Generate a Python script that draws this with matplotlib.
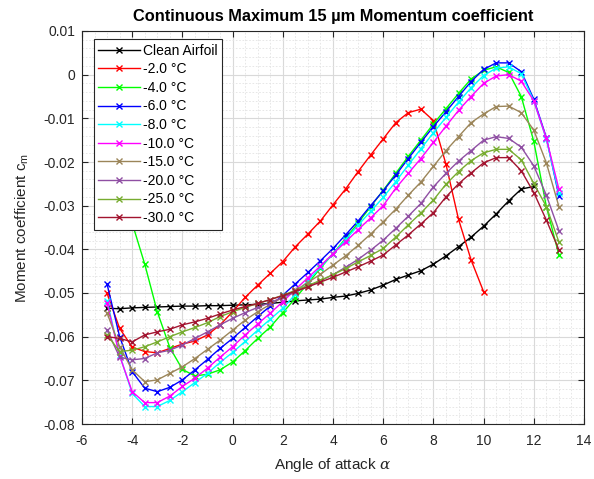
import matplotlib
matplotlib.use("Agg")
import matplotlib.pyplot as plt
from matplotlib.ticker import MultipleLocator
import numpy as np

plt.rcParams["font.family"] = ["Liberation Sans", "DejaVu Sans"]
plt.rcParams["mathtext.fontset"] = "dejavuserif"
plt.rcParams["axes.unicode_minus"] = False

# angle of attack, deg (0.5 deg steps)
alpha_clean = np.arange(-5.0, 12.01, 0.5)
alpha_m2 = np.arange(-5.0, 10.01, 0.5)
alpha_full = np.arange(-5.0, 13.01, 0.5)

cm_clean = [-0.0535, -0.0536, -0.0534, -0.0533, -0.0532, -0.0531, -0.0530, -0.0530,
            -0.0529, -0.0529, -0.0528, -0.0527, -0.0526, -0.0524, -0.0521, -0.0518,
            -0.0516, -0.0514, -0.0510, -0.0507, -0.0501, -0.0493, -0.0482, -0.0469,
            -0.0459, -0.0449, -0.0434, -0.0415, -0.0394, -0.0372, -0.0347, -0.0319,
            -0.0289, -0.0262, -0.0256]

cm_m2 = [-0.0501, -0.0581, -0.0624, -0.0634, -0.0637, -0.0627, -0.0617, -0.0610,
         -0.0596, -0.0573, -0.0543, -0.0510, -0.0482, -0.0455, -0.0428, -0.0394,
         -0.0365, -0.0335, -0.0298, -0.0262, -0.0222, -0.0184, -0.0147, -0.0110,
         -0.0087, -0.0079, -0.0105, -0.0205, -0.0331, -0.0424, -0.0497]

cm_m4 = [-0.0180, -0.0260, -0.0340, -0.0434, -0.0543, -0.0625, -0.0675, -0.0690,
         -0.0686, -0.0676, -0.0658, -0.0632, -0.0604, -0.0578, -0.0545, -0.0512,
         -0.0478, -0.0443, -0.0410, -0.0375, -0.0340, -0.0302, -0.0265, -0.0226,
         -0.0187, -0.0150, -0.0113, -0.0078, -0.0043, -0.0010, 0.0010, 0.0018,
         0.0005, -0.0050, -0.0153, -0.0302, -0.0413]

cm_m6 = [-0.0480, -0.0600, -0.0680, -0.0718, -0.0726, -0.0716, -0.0699, -0.0676,
         -0.0652, -0.0627, -0.0604, -0.0579, -0.0554, -0.0530, -0.0505, -0.0479,
         -0.0453, -0.0426, -0.0398, -0.0367, -0.0335, -0.0300, -0.0266, -0.0230,
         -0.0192, -0.0155, -0.0119, -0.0085, -0.0050, -0.0016, 0.0012, 0.0027,
         0.0027, 0.0007, -0.0056, -0.0144, -0.0278]

cm_m8 = [-0.0518, -0.0642, -0.0730, -0.0760, -0.0760, -0.0746, -0.0726, -0.0705,
         -0.0684, -0.0659, -0.0636, -0.0611, -0.0585, -0.0560, -0.0535, -0.0503,
         -0.0472, -0.0441, -0.0410, -0.0378, -0.0345, -0.0313, -0.0281, -0.0245,
         -0.0207, -0.0170, -0.0133, -0.0098, -0.0063, -0.0030, -0.0002, 0.0015,
         0.0018, 0.0002, -0.0060, -0.0148, -0.0272]

cm_m10 = [-0.0524, -0.0644, -0.0726, -0.0751, -0.0751, -0.0736, -0.0714, -0.0695,
          -0.0672, -0.0647, -0.0623, -0.0596, -0.0571, -0.0546, -0.0520, -0.0492,
          -0.0465, -0.0438, -0.0410, -0.0383, -0.0355, -0.0328, -0.0300, -0.0260,
          -0.0226, -0.0192, -0.0155, -0.0118, -0.0082, -0.0050, -0.0020, -0.0003,
          0.0000, -0.0015, -0.0060, -0.0146, -0.0262]

cm_m15 = [-0.0546, -0.0623, -0.0676, -0.0703, -0.0699, -0.0684, -0.0669, -0.0650,
          -0.0629, -0.0608, -0.0585, -0.0562, -0.0543, -0.0526, -0.0510, -0.0494,
          -0.0476, -0.0457, -0.0436, -0.0415, -0.0391, -0.0365, -0.0337, -0.0308,
          -0.0276, -0.0246, -0.0210, -0.0174, -0.0142, -0.0110, -0.0090, -0.0073,
          -0.0072, -0.0087, -0.0127, -0.0202, -0.0302]

cm_m20 = [-0.0585, -0.0647, -0.0653, -0.0650, -0.0637, -0.0631, -0.0619, -0.0604,
          -0.0589, -0.0573, -0.0558, -0.0545, -0.0533, -0.0522, -0.0510, -0.0498,
          -0.0485, -0.0472, -0.0458, -0.0441, -0.0423, -0.0402, -0.0379, -0.0352,
          -0.0324, -0.0295, -0.0257, -0.0226, -0.0198, -0.0174, -0.0150, -0.0142,
          -0.0146, -0.0166, -0.0209, -0.0276, -0.0357]

cm_m25 = [-0.0596, -0.0634, -0.0631, -0.0623, -0.0612, -0.0600, -0.0589, -0.0579,
          -0.0568, -0.0554, -0.0543, -0.0533, -0.0524, -0.0515, -0.0505, -0.0494,
          -0.0483, -0.0471, -0.0458, -0.0444, -0.0429, -0.0414, -0.0398, -0.0372,
          -0.0344, -0.0317, -0.0287, -0.0251, -0.0222, -0.0197, -0.0179, -0.0171,
          -0.0171, -0.0195, -0.0249, -0.0302, -0.0383]

cm_m30 = [-0.0600, -0.0604, -0.0612, -0.0596, -0.0589, -0.0583, -0.0573, -0.0566,
          -0.0558, -0.0548, -0.0539, -0.0531, -0.0524, -0.0515, -0.0506, -0.0496,
          -0.0486, -0.0475, -0.0464, -0.0452, -0.0440, -0.0427, -0.0413, -0.0390,
          -0.0367, -0.0342, -0.0316, -0.0280, -0.0250, -0.0225, -0.0202, -0.0190,
          -0.0190, -0.0220, -0.0270, -0.0333, -0.0401]

y_ticks = [-0.08, -0.07, -0.06, -0.05, -0.04, -0.03, -0.02, -0.01, 0.0, 0.01]
y_ticklabels = ["-0.08", "-0.07", "-0.06", "-0.05", "-0.04", "-0.03",
                "-0.02", "-0.01", "0", "0.01"]

series = [
    ("Clean Airfoil", alpha_clean, cm_clean, "#000000"),
    ("-2.0 °C", alpha_m2, cm_m2, "#ff0000"),
    ("-4.0 °C", alpha_full, cm_m4, "#00ff00"),
    ("-6.0 °C", alpha_full, cm_m6, "#0000ff"),
    ("-8.0 °C", alpha_full, cm_m8, "#00ffff"),
    ("-10.0 °C", alpha_full, cm_m10, "#ff00ff"),
    ("-15.0 °C", alpha_full, cm_m15, "#9b8559"),
    ("-20.0 °C", alpha_full, cm_m20, "#8f4fa3"),
    ("-25.0 °C", alpha_full, cm_m25, "#77ac30"),
    ("-30.0 °C", alpha_full, cm_m30, "#a2142f"),
]

fig = plt.figure(figsize=(5.94, 4.79), dpi=100)
ax = fig.add_axes([82 / 594, 1 - 424 / 479, 502 / 594, 393 / 479])

for label, a, cm, col in series:
    ax.plot(a, cm, color=col, lw=1.0, marker="x", ms=5, mew=1.0, label=label)

ax.set_xlim(-6, 14)
ax.set_ylim(-0.08, 0.01)
ax.xaxis.set_major_locator(MultipleLocator(2))
ax.xaxis.set_minor_locator(MultipleLocator(0.5))
ax.set_yticks(y_ticks)
ax.set_yticklabels(y_ticklabels)
ax.yaxis.set_minor_locator(MultipleLocator(0.002))

ax.grid(which="major", color="#d9d9d9", lw=0.8, ls="-")
ax.grid(which="minor", color="#e3e3e3", lw=0.6, ls=(0, (2, 2)))
ax.set_axisbelow(True)
ax.tick_params(which="both", direction="in", top=True, right=True,
               labelsize=10, colors="#262626", length=0)
ax.tick_params(which="major", length=4)
ax.tick_params(axis="x", pad=7)
ax.tick_params(axis="y", pad=5)
for s in ax.spines.values():
    s.set_color("#262626")
    s.set_linewidth(0.8)

ax.set_title("Continuous Maximum 15 µm Momentum coefficient",
             fontsize=11.8, fontweight="bold", pad=7)
ax.set_xlabel(r"Angle of attack $\alpha$", fontsize=11, color="#262626",
              labelpad=6)
ax.set_ylabel(r"Moment coefficient c$_\mathregular{m}$", fontsize=11,
              color="#262626", labelpad=9)

leg = ax.legend(loc="upper left", bbox_to_anchor=(0.023, 0.98), fontsize=10,
                frameon=True, fancybox=False, framealpha=1, edgecolor="#262626",
                handlelength=3.0, labelspacing=0.33, borderpad=0.35,
                handletextpad=0.2, borderaxespad=0)
leg.get_frame().set_linewidth(0.8)

fig.savefig("out.png", dpi=100)
